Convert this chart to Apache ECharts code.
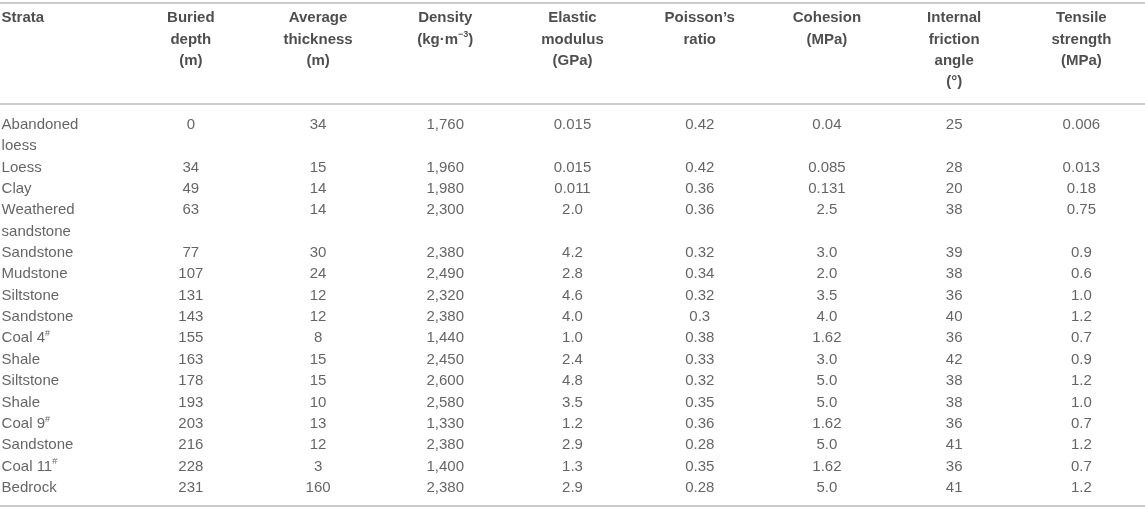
<!DOCTYPE html>
<html>
<head>
<meta charset="utf-8">
<script src="https://cdn.jsdelivr.net/npm/echarts@6/dist/echarts.min.js"></script>
<style>
  html, body { margin: 0; padding: 0; background: #fff; }
  #tabla { width: 1145px; height: 508px; }
</style>
</head>
<body>
<div id="tabla"></div>
<script>
// Datos
const encabezados = [
    'Strata',
    'Buried\ndepth\n(m)',
    'Average\nthickness\n(m)',
    'Density\n(kg·m{sup|−3})',
    'Elastic\nmodulus\n(GPa)',
    'Poisson’s\nratio',
    'Cohesion\n(MPa)',
    'Internal\nfriction\nangle\n(°)',
    'Tensile\nstrength\n(MPa)'
];

const estratos = [
    'Abandoned\nloess', 'Loess', 'Clay', 'Weathered\nsandstone', 'Sandstone', 'Mudstone',
    'Siltstone', 'Sandstone', 'Coal 4{sup|#}', 'Shale', 'Siltstone', 'Shale',
    'Coal 9{sup|#}', 'Sandstone', 'Coal 11{sup|#}', 'Bedrock'
];

const profundidad = [0, 34, 49, 63, 77, 107, 131, 143, 155, 163, 178, 193, 203, 216, 228, 231];
const espesor = [34, 15, 14, 14, 30, 24, 12, 12, 8, 15, 15, 10, 13, 12, 3, 160];
const densidad = [1760, 1960, 1980, 2300, 2380, 2490, 2320, 2380, 1440, 2450, 2600, 2580, 1330, 2380, 1400, 2380];
const modulo = [0.015, 0.015, 0.011, 2.0, 4.2, 2.8, 4.6, 4.0, 1.0, 2.4, 4.8, 3.5, 1.2, 2.9, 1.3, 2.9];
const poisson = [0.42, 0.42, 0.36, 0.36, 0.32, 0.34, 0.32, 0.3, 0.38, 0.33, 0.32, 0.35, 0.36, 0.28, 0.35, 0.28];
const cohesion = [0.04, 0.085, 0.131, 2.5, 3.0, 2.0, 3.5, 4.0, 1.62, 3.0, 5.0, 5.0, 1.62, 5.0, 1.62, 5.0];
const friccion = [25, 28, 20, 38, 39, 38, 36, 40, 36, 42, 38, 38, 36, 41, 36, 41];
const traccion = [0.006, 0.013, 0.18, 0.75, 0.9, 0.6, 1.0, 1.2, 0.7, 0.9, 1.2, 1.0, 0.7, 1.2, 0.7, 1.2];

const columnas = [profundidad, espesor, densidad, modulo, poisson, cohesion, friccion, traccion];
const formatos = ['int', 'int', 'miles', 'dec', 'dec', 'dec', 'int', 'dec'];

// FORMATO
function formatear(v, tipo) {
    if (tipo === 'miles') return v.toLocaleString('en-US');
    if (tipo === 'dec') return Number.isInteger(v) ? v.toFixed(1) : String(v);
    return String(v);
}

function celda(col, fila, texto) {
    return {
        value: [col, fila],
        label: {
            formatter: texto,
            align: col === 0 ? 'left' : 'center',
            offset: col === 0 ? [-62, 0] : [0, 0]
        }
    };
}

// PROCESAMIENTO
function procesarEncabezados() {
    const celdas = [];
    encabezados.forEach((h, c) => {
        h.split('\n').forEach((linea, j) => celdas.push(celda(c, -5 + j, linea)));
    });
    return celdas;
}

function procesarCuerpo() {
    const celdas = [];
    let fila = 0;
    estratos.forEach((nombre, r) => {
        const lineas = nombre.split('\n');
        lineas.forEach((linea, j) => celdas.push(celda(0, fila + j, linea)));
        columnas.forEach((serie, k) => {
            celdas.push(celda(k + 1, fila, formatear(serie[r], formatos[k])));
        });
        fila += lineas.length;
    });
    return celdas;
}

const supRich = {
    sup: { fontSize: 9, lineHeight: 9, verticalAlign: 'top' }
};

function crearTabla() {
    return {
        animation: false,
        grid: { left: -4.6, width: 1168.7, top: 2, height: 504 },
        xAxis: {
            type: 'category',
            data: encabezados,
            show: false
        },
        yAxis: {
            type: 'value',
            inverse: true,
            min: -5.75,
            max: 17.85,
            show: false
        },
        series: [
            {
                type: 'scatter',
                symbolSize: 1,
                itemStyle: { color: 'rgba(0,0,0,0)' },
                silent: true,
                label: {
                    show: true,
                    position: 'inside',
                    fontFamily: 'Liberation Sans, Arial, sans-serif',
                    fontSize: 15,
                    fontWeight: 'bold',
                    lineHeight: 18,
                    color: '#222',
                    rich: supRich
                },
                data: procesarEncabezados(),
                markLine: {
                    silent: true,
                    symbol: 'none',
                    label: { show: false },
                    lineStyle: { color: '#cbcbcb', width: 2, type: 'solid' },
                    data: [{ yAxis: -5.72 }, { yAxis: -1 }, { yAxis: 17.82 }]
                }
            },
            {
                type: 'scatter',
                symbolSize: 1,
                itemStyle: { color: 'rgba(0,0,0,0)' },
                silent: true,
                label: {
                    show: true,
                    position: 'inside',
                    fontFamily: 'Liberation Sans, Arial, sans-serif',
                    fontSize: 15,
                    lineHeight: 18,
                    color: '#3d3d3d',
                    rich: supRich
                },
                data: procesarCuerpo()
            }
        ]
    };
}

const grafico = echarts.init(document.getElementById('tabla'), null, { renderer: 'canvas' });
grafico.setOption(crearTabla());
</script>
</body>
</html>
